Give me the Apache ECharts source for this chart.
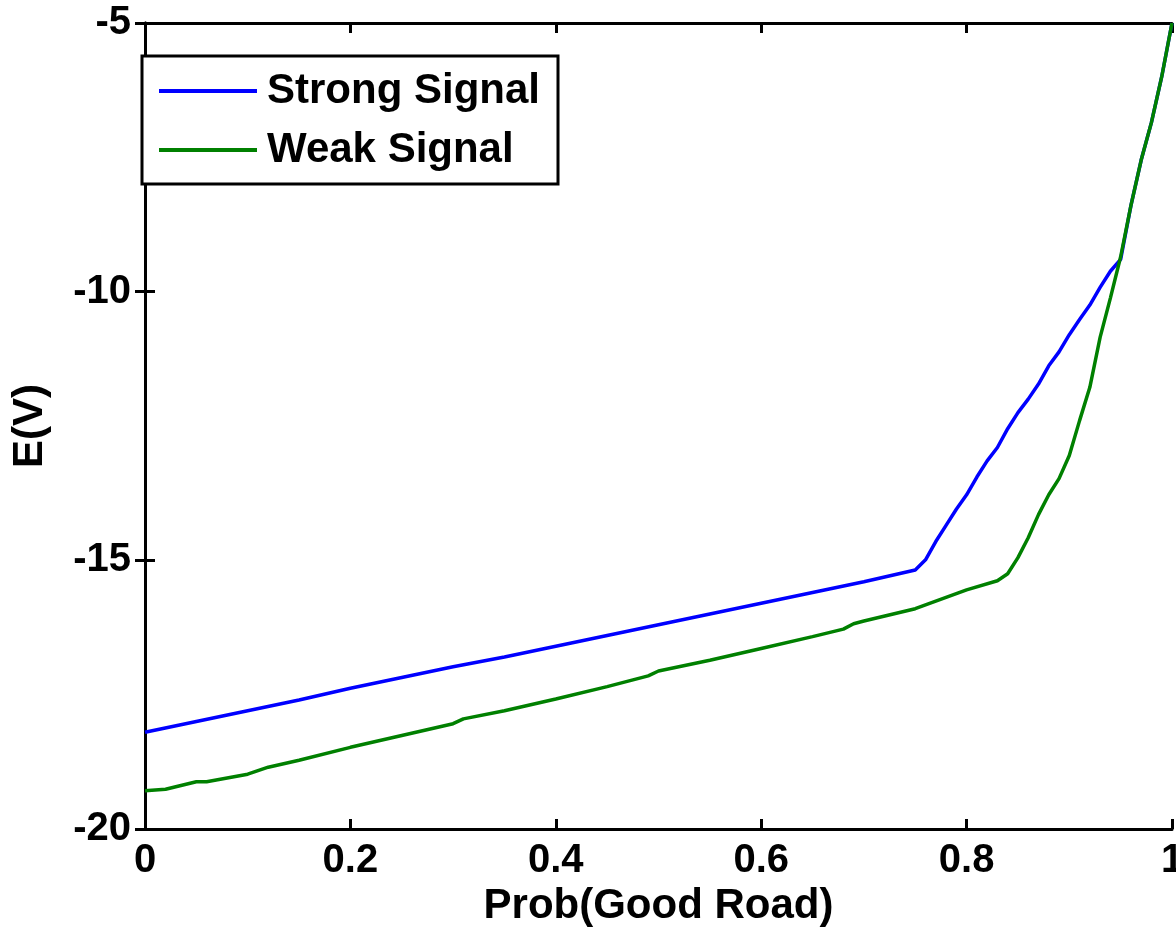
<!DOCTYPE html>
<html>
<head>
<meta charset="utf-8">
<script src="https://cdn.jsdelivr.net/npm/echarts@6/dist/echarts.min.js"></script>
<style>
  html, body { margin: 0; padding: 0; background: #fff; }
  #chart { width: 1176px; height: 935px; }
</style>
</head>
<body>
<div id="chart"></div>
<script>
// values
const strongX = [0, 0.05, 0.1, 0.15, 0.2, 0.25, 0.3, 0.35, 0.4, 0.45, 0.5, 0.55, 0.6, 0.65, 0.7, 0.75,
  0.76, 0.77, 0.78, 0.79, 0.8, 0.81, 0.82, 0.83, 0.84, 0.85, 0.86, 0.87, 0.88, 0.89, 0.9,
  0.91, 0.92, 0.93, 0.94, 0.95, 0.96, 0.97, 0.98, 0.99, 1];
const strongY = [-18.2, -18.0, -17.8, -17.6, -17.38, -17.18, -16.98, -16.8, -16.6, -16.4, -16.2, -16.0, -15.8, -15.6, -15.4, -15.18,
  -14.99, -14.65, -14.35, -14.05, -13.78, -13.45, -13.15, -12.9, -12.55, -12.25, -12.0, -11.72, -11.38, -11.12, -10.8,
  -10.52, -10.25, -9.92, -9.62, -9.4, -8.4, -7.55, -6.85, -6.0, -5.0];
const weakX = [0, 0.02, 0.05, 0.06, 0.1, 0.12, 0.15, 0.2, 0.25, 0.3, 0.31, 0.35, 0.4, 0.45, 0.49, 0.5, 0.55, 0.6, 0.65, 0.68, 0.69, 0.7,
  0.75, 0.8, 0.83, 0.84, 0.85, 0.86, 0.87, 0.88, 0.89, 0.9, 0.91, 0.92, 0.93, 0.94, 0.95, 0.96, 0.97, 0.98, 0.99, 1];
const weakY = [-19.29, -19.26, -19.12, -19.12, -18.98, -18.85, -18.72, -18.48, -18.26, -18.04, -17.95, -17.8, -17.58, -17.35, -17.15, -17.06, -16.86, -16.64, -16.42, -16.28, -16.18, -16.13,
  -15.9, -15.55, -15.38, -15.25, -14.95, -14.58, -14.15, -13.78, -13.48, -13.05, -12.4, -11.78, -10.85, -10.12, -9.35, -8.4, -7.55, -6.85, -6.0, -5.0];
const seriesNames = ["Strong Signal", "Weak Signal"];
const xTicks = [0, 1, 0.2];  // min, max, interval
const yTicks = [-20, -5, 5];

const font = "'Liberation Sans', Arial, sans-serif";
const zip = (xs, ys) => xs.map((x, i) => [x, ys[i]]);

const chart = echarts.init(document.getElementById("chart"), null, { renderer: "canvas" });

const boxAxis = {
  axisLine: { show: true, lineStyle: { color: "#000", width: 3 } },
  axisTick: { show: true, inside: true, length: 10, lineStyle: { color: "#000", width: 3 } },
  splitLine: { show: false },
};

chart.setOption({
  animation: false,
  backgroundColor: "#fff",
  grid: { left: 145, right: 4, top: 23, bottom: 106, containLabel: false, outerBoundsMode: "none" },
  legend: {
    left: 142,
    top: 56,
    orient: "vertical",
    data: seriesNames,
    icon: "rect",
    itemWidth: 98,
    itemHeight: 4,
    itemGap: 17,
    padding: [14, 18, 13, 17],
    borderColor: "#000",
    borderWidth: 3,
    backgroundColor: "#fff",
    textStyle: { fontFamily: font, fontWeight: "bold", fontSize: 42, color: "#000", padding: [0, 0, 0, 5] },
  },
  xAxis: [
    {
      ...boxAxis,
      type: "value",
      min: xTicks[0], max: xTicks[1], interval: xTicks[2],
      name: "Prob(Good Road)",
      nameLocation: "middle",
      nameGap: 56,
      nameTextStyle: { fontFamily: font, fontWeight: "bold", fontSize: 42, color: "#000" },
      axisLabel: { margin: 12, fontFamily: font, fontWeight: "bold", fontSize: 40, color: "#000" },
    },
    {
      ...boxAxis,
      type: "value", position: "top",
      min: xTicks[0], max: xTicks[1], interval: xTicks[2],
      axisLabel: { show: false },
    },
  ],
  yAxis: [
    {
      ...boxAxis,
      type: "value",
      min: yTicks[0], max: yTicks[1], interval: yTicks[2],
      name: "E(V)",
      nameLocation: "middle",
      nameGap: 94,
      nameTextStyle: { fontFamily: font, fontWeight: "bold", fontSize: 42, color: "#000" },
      axisLabel: { margin: 14, fontFamily: font, fontWeight: "bold", fontSize: 40, color: "#000" },
    },
    {
      ...boxAxis,
      type: "value", position: "right",
      min: yTicks[0], max: yTicks[1], interval: yTicks[2],
      axisLabel: { show: false },
    },
  ],
  series: [
    {
      name: seriesNames[0],
      type: "line",
      data: zip(strongX, strongY),
      showSymbol: false,
      color: "#0000ff",
      lineStyle: { width: 3.5, color: "#0000ff" },
      z: 3,
    },
    {
      name: seriesNames[1],
      type: "line",
      data: zip(weakX, weakY),
      showSymbol: false,
      color: "#008000",
      lineStyle: { width: 3.5, color: "#008000" },
      z: 4,
    },
  ],
});
</script>
</body>
</html>
